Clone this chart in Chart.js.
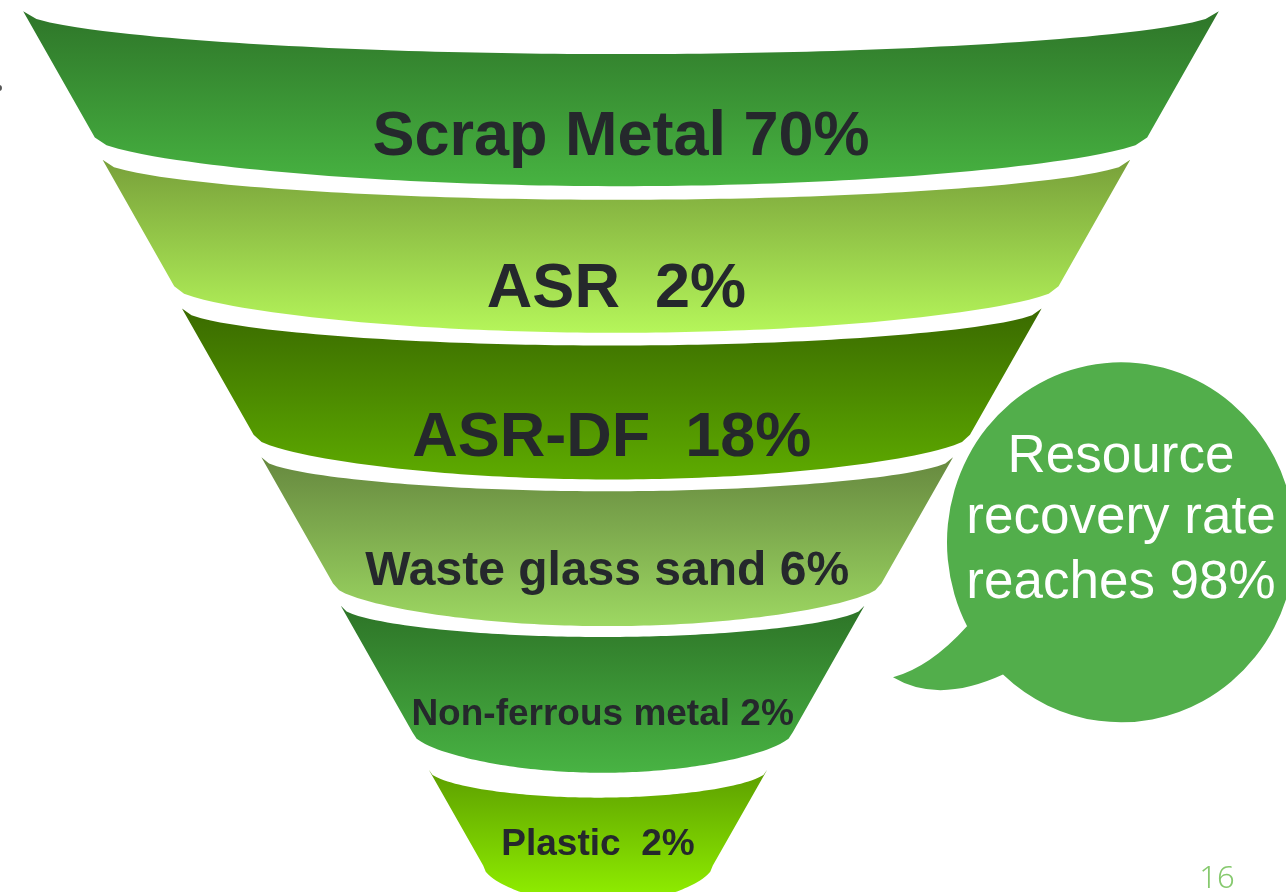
<!DOCTYPE html>
<html lang="en">
<head>
<meta charset="UTF-8">
<title>Resource recovery funnel</title>
<style>
  html, body { margin: 0; padding: 0; background: #fff; }
  #wrap { width: 1286px; height: 892px; position: relative; }
</style>
</head>
<body>
<div id="wrap"><canvas id="funnel"></canvas></div>

<script src="https://cdn.jsdelivr.net/npm/chart.js"></script>
<script>
// values
const categories = ['Scrap Metal', 'ASR', 'ASR-DF', 'Waste glass sand', 'Non-ferrous metal', 'Plastic'];
const shares = [70, 2, 18, 6, 2, 2];
const separators = [' ', '  ', '  ', ' ', ' ', '  '];
const recoveryRate = 98;
const pageNumber = '16';

// ring colours, top -> bottom
const ringColors = [
  ['#2e7529', '#47b341'],
  ['#78a03a', '#b5f65a'],
  ['#3a6a00', '#5eab00'],
  ['#66883f', '#9dd862'],
  ['#2d7327', '#48b343'],
  ['#5c9e00', '#92f200']
];
const labelSizes = [63, 63, 63, 48, 37, 37];
const labelDrop = [81, 84, 84, 65, 56, 37];
const taper = 0.567; // cone side: half width lost per px going down

// every ring is a slice of one cone; the floating bar holds its width at mid height
const ringHalf = i => 562 - 84 * i;
const ringAxis = i => -22 - 4.6 * i;
const ringSpan = i => [ringAxis(i) - ringHalf(i), ringAxis(i) + ringHalf(i)];
const last = categories.length - 1;

// front rim of a ring: sags by b in the middle, half ellipse / half parabola
function rim(ctx, cx, y, hw, b, w, leftToRight) {
  const n = 90;
  for (let k = 0; k <= n; k++) {
    const u = leftToRight ? -1 + 2 * k / n : 1 - 2 * k / n;
    const q = 1 - u * u;
    ctx.lineTo(cx + u * hw, y + b * (w * Math.sqrt(q) + (1 - w) * q));
  }
}

const funnelRings = {
  id: 'funnelRings',
  beforeDatasetDraw(chart, args) {
    const ctx = chart.ctx;
    const ds = chart.data.datasets[args.index];
    args.meta.data.forEach((bar, i) => {
      if (!ds.data[i]) return;
      const p = bar.getProps(['x', 'y', 'base', 'height'], true);
      const cx = (p.x + p.base) / 2;
      const mid = Math.abs(p.x - p.base) / 2;
      const top = p.y - p.height / 2;
      const bottom = p.y + p.height / 2;
      const hwT = mid + taper * p.height / 2;
      const hwB = mid - taper * p.height / 2;
      const bT = 22 + 0.035 * hwT;
      const bB = 36 + 0.024 * hwB;

      const grad = ctx.createLinearGradient(0, top, 0, bottom + bB);
      grad.addColorStop(0, ringColors[i][0]);
      grad.addColorStop(1, ringColors[i][1]);

      ctx.save();
      ctx.beginPath();
      rim(ctx, cx, top, hwT, bT, 0.85, true);
      rim(ctx, cx, bottom, hwB, bB, 0.7, false);
      ctx.closePath();
      ctx.fillStyle = grad;
      ctx.fill();

      ctx.fillStyle = '#25282c';
      ctx.font = 'bold ' + labelSizes[i] + 'px "Liberation Sans", Arial, sans-serif';
      ctx.textAlign = 'center';
      ctx.textBaseline = 'alphabetic';
      ctx.fillText(categories[i] + separators[i] + shares[i] + '%', cx, p.y + labelDrop[i]);
      ctx.restore();
    });
    return false;
  },
  afterDraw(chart) {
    const ctx = chart.ctx;
    const x = chart.scales.x, y = chart.scales.y;

    // speech bubble with its tail pointing back at the funnel
    const cx = x.getPixelForValue(478), cy = y.getPixelForValue(3) + 22;
    const rx = 174, ry = 180;
    const deg = Math.PI / 180;
    ctx.save();
    ctx.beginPath();
    ctx.ellipse(cx, cy, rx, ry, 0, 152 * deg, 492.7 * deg, false);
    ctx.quadraticCurveTo(cx - 183, cy + 162, cx - 228, cy + 135);
    ctx.quadraticCurveTo(cx - 191, cy + 125, cx - 154, cy + 84);
    ctx.closePath();
    ctx.fillStyle = '#52ae4b';
    ctx.fill();

    ctx.fillStyle = '#ffffff';
    ctx.font = '53px "Liberation Sans", Arial, sans-serif';
    ctx.textAlign = 'center';
    ctx.fillText('Resource', cx, cy - 70);
    ctx.fillText('recovery rate', cx, cy - 9);
    ctx.fillText('reaches ' + recoveryRate + '%', cx, cy + 56);

    // page number
    ctx.fillStyle = '#86c96e';
    ctx.font = '300 31px "Noto Sans", sans-serif';
    ctx.fillText(pageNumber, 1217, 888);

    // leftover bullet at the slide edge
    ctx.fillStyle = '#555';
    ctx.beginPath();
    ctx.arc(-1, 88, 3, 0, Math.PI * 2);
    ctx.fill();
    ctx.restore();
  }
};

new Chart(document.getElementById('funnel'), {
  type: 'bar',
  data: {
    labels: categories,
    datasets: [
      {
        data: categories.map((c, i) => i < last ? ringSpan(i) : null),
        grouped: false,
        categoryPercentage: 1,
        barPercentage: 0.85
      },
      {
        data: categories.map((c, i) => i === last ? ringSpan(i) : null),
        grouped: false,
        categoryPercentage: 1,
        barPercentage: 0.645
      }
    ]
  },
  options: {
    indexAxis: 'y',
    responsive: true,
    maintainAspectRatio: false,
    animation: false,
    layout: { padding: 0 },
    plugins: { legend: { display: false }, tooltip: { enabled: false } },
    scales: {
      x: { type: 'linear', min: -643, max: 643, display: false },
      y: { type: 'category', display: false, offset: true }
    }
  },
  plugins: [funnelRings]
});
</script>
</body>
</html>
